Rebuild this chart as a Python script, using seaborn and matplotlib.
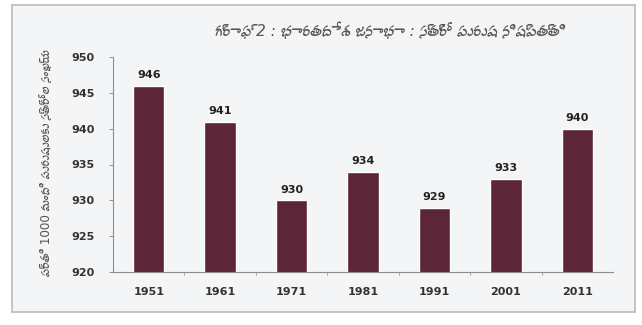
import matplotlib
matplotlib.use("Agg")
import matplotlib.pyplot as plt
from matplotlib import font_manager, ft2font
import seaborn as sns
import pandas as pd

years = ["1951", "1961", "1971", "1981", "1991", "2001", "2011"]
sex_ratio = [946, 941, 930, 934, 929, 933, 940]
y_ticks = [920, 925, 930, 935, 940, 945, 950]

title_text = "గ్రాఫ్ 2 : భారతదేశ జనాభా : స్త్రీ పురుష నిష్పత్తి"
ylabel_text = "ప్రతి 1000 మంది పురుషులకు స్త్రీల సంఖ్య"


def telugu_families():
    """Installed families whose fonts carry Telugu letters, proportional ones first."""
    found = []
    for path in font_manager.findSystemFonts():
        try:
            f = ft2font.FT2Font(path)
            if 0x0C15 in f.get_charmap():
                name = font_manager.FontProperties(fname=path).get_name()
                if name not in found:
                    found.append(name)
        except Exception:
            pass
    found.sort(key=lambda n: ("mono" in n.lower() or "unifont" in n.lower(), n))
    return found


sns.set_theme(style="white")
families = ["DejaVu Sans"] + telugu_families()
plt.rcParams["font.family"] = families

df = pd.DataFrame({"year": years, "ratio": sex_ratio})

fig = plt.figure(figsize=(6.42, 3.25), dpi=100)
fig.patch.set_facecolor("white")

# framed panel behind the chart
bg = fig.add_axes([12 / 642, 13 / 325, 623 / 642, 307 / 325], zorder=-1)
bg.set_facecolor("#f3f5f6")
bg.set_xticks([])
bg.set_yticks([])
for s in bg.spines.values():
    s.set_color("#b9bcbf")
    s.set_linewidth(1.2)

ax = fig.add_axes([113 / 642, 53 / 325, 500 / 642, 215 / 325])
ax.set_facecolor("none")

bar_color = "#5c2638"
sns.barplot(data=df, x="year", y="ratio", color=bar_color, width=0.44,
            saturation=1, ax=ax, zorder=2)

ax.set_ylim(920, 950)
ax.set_xlim(-0.5, len(years) - 0.5)
ax.set_yticks(y_ticks)
ax.set_yticklabels([str(t) for t in y_ticks], fontsize=8, color="#333333",
                   fontweight="bold")
ax.set_xticks(range(len(years)))
ax.set_xticklabels(years, fontsize=8, color="#333333", fontweight="bold")
ax.tick_params(axis="x", length=0, pad=11)
ax.tick_params(axis="y", length=3, width=0.6, color="#888888", pad=10, left=True)

# category separators on the x axis
for b in [i + 0.5 for i in range(len(years) - 1)]:
    ax.plot([b, b], [0, -0.015], transform=ax.get_xaxis_transform(),
            color="#999999", lw=0.6, clip_on=False)

for s in ["top", "right"]:
    ax.spines[s].set_visible(False)
for s in ["left", "bottom"]:
    ax.spines[s].set_color("#8c8c8c")
    ax.spines[s].set_linewidth(0.8)

for p, v in zip(ax.patches, sex_ratio):
    ax.annotate(str(v), (p.get_x() + p.get_width() / 2, v),
                xytext=(0, 4), textcoords="offset points",
                ha="center", va="bottom", fontsize=8, color="#222222",
                fontweight="bold")

ax.set_xlabel("")
ax.set_ylabel("")
ylab = fig.text(46 / 642, 0.5, ylabel_text, rotation=90, ha="center",
                va="center", fontsize=9, color="#555555")
title = fig.text(390 / 642, 0.905, title_text, ha="center", va="center",
                 fontsize=10, style="italic", color="#555555")


def fit(text, target_px, horizontal=True):
    """Shrink a text until its long side spans target_px pixels."""
    renderer = fig.canvas.get_renderer()
    for _ in range(4):
        bb = text.get_window_extent(renderer)
        span = bb.width if horizontal else bb.height
        if span <= 0:
            break
        text.set_fontsize(text.get_fontsize() * target_px / span)


fit(title, 350, horizontal=True)
fit(ylab, 225, horizontal=False)

fig.savefig("out.png", dpi=100)
